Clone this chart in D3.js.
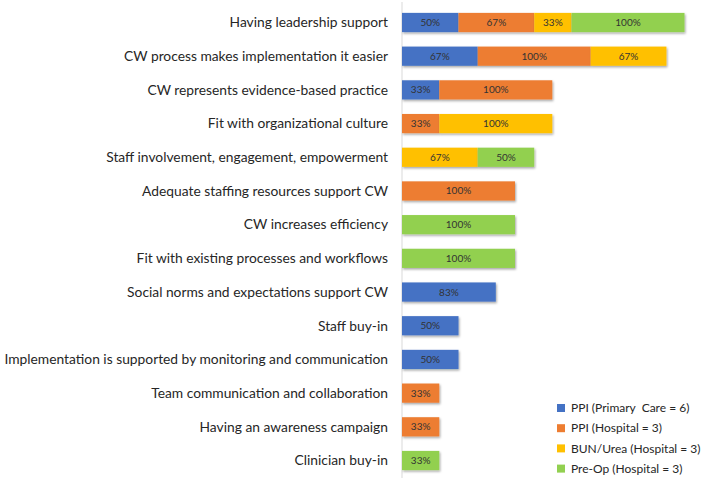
<!DOCTYPE html>
<html>
<head>
<meta charset="utf-8">
<script src="https://cdn.jsdelivr.net/npm/d3@7"></script>
<style>
  body { margin: 0; background: #fff; }
  text { font-family: Lato, "Open Sans", sans-serif; white-space: pre; }
</style>
</head>
<body>
<div id="chartContainer"></div>
<script>
const categories = [
  "Having leadership support",
  "CW process makes implementation it easier",
  "CW represents evidence-based practice",
  "Fit with organizational culture",
  "Staff involvement, engagement, empowerment",
  "Adequate staffing resources support CW",
  "CW increases efficiency",
  "Fit with existing processes and workflows",
  "Social norms and expectations support CW",
  "Staff buy-in",
  "Implementation is supported by monitoring and communication",
  "Team communication and collaboration",
  "Having an awareness campaign",
  "Clinician buy-in"
]

const seriesNames = ["PPI (Primary  Care = 6)", "PPI (Hospital = 3)", "BUN/Urea (Hospital = 3)", "Pre-Op (Hospital = 3)"]
const ppiPrimary  = [50, 67, 33, 0, 0, 0, 0, 0, 83, 50, 50, 0, 0, 0]
const ppiHospital = [67, 100, 100, 33, 0, 100, 0, 0, 0, 0, 0, 33, 33, 0]
const bunUrea     = [33, 67, 0, 100, 67, 0, 0, 0, 0, 0, 0, 0, 0, 0]
const preOp       = [100, 0, 0, 0, 50, 0, 100, 100, 0, 0, 0, 0, 0, 33]
const colors = ["#4472C4", "#ED7D31", "#FFC000", "#92D050"]

const width = 709, height = 480

const table = categories.map((c, i) => ({
  cat: c,
  s0: ppiPrimary[i], s1: ppiHospital[i], s2: bunUrea[i], s3: preOp[i]
}))
const keys = ["s0", "s1", "s2", "s3"]
const stacked = d3.stack().keys(keys)(table)

const x = d3.scaleLinear().domain([0, 250]).range([402, 402 + 282.5])
const y = d3.scaleBand()
    .domain(categories)
    .range([-1.6, 484.6])
    .paddingInner(0.43)
    .paddingOuter(0.43)

const svg = d3.select('#chartContainer')
  .append('svg')
  .attr('width', width)
  .attr('height', height)

const defs = svg.append("defs")
defs.append("filter")
    .attr("id", "shadow")
    .attr("x", "-10%").attr("y", "-30%")
    .attr("width", "130%").attr("height", "170%")
  .append("feDropShadow")
    .attr("dx", 1).attr("dy", 1.5)
    .attr("stdDeviation", 0.8)
    .attr("flood-color", "#000")
    .attr("flood-opacity", 0.35)

// axis line
svg.append("line")
    .attr("x1", x(0)).attr("x2", x(0))
    .attr("y1", 2).attr("y2", 478)
    .attr("stroke", "#d9d9d9")
    .attr("stroke-width", 1)

// category labels
svg.append("g")
  .selectAll("text")
  .data(categories)
  .join("text")
    .attr("x", 388)
    .attr("y", d => y(d) + y.bandwidth() / 2)
    .attr("dy", "0.35em")
    .attr("text-anchor", "end")
    .attr("font-size", 13.8)
    .attr("fill", "#262626")
    .text(d => d)

const serie = svg.append("g")
  .selectAll("g")
  .data(stacked)
  .join("g")
    .attr("fill", (d, i) => colors[i])

serie.selectAll("rect")
  .data(d => d.filter(v => v[1] - v[0] > 0))
  .join("rect")
    .attr("x", d => x(d[0]))
    .attr("y", d => y(d.data.cat))
    .attr("width", d => x(d[1]) - x(d[0]))
    .attr("height", y.bandwidth())
    .attr("filter", "url(#shadow)")

serie.selectAll("text")
  .data(d => d.filter(v => v[1] - v[0] > 0))
  .join("text")
    .attr("x", d => (x(d[0]) + x(d[1])) / 2)
    .attr("y", d => y(d.data.cat) + y.bandwidth() / 2)
    .attr("dy", "0.35em")
    .attr("text-anchor", "middle")
    .attr("font-size", 10)
    .attr("fill", "#333")
    .text(d => (d[1] - d[0]) + "%")

// legend
const legend = svg.append("g")
  .selectAll("g")
  .data(seriesNames)
  .join("g")
    .attr("transform", (d, i) => `translate(557,${408 + i * 20.2})`)

legend.append("rect")
    .attr("x", 0).attr("y", -4)
    .attr("width", 8).attr("height", 8)
    .attr("fill", (d, i) => colors[i])

legend.append("text")
    .attr("x", 14)
    .attr("dy", "0.35em")
    .attr("font-size", 12)
    .attr("fill", "#262626")
    .text(d => d)
</script>
</body>
</html>
